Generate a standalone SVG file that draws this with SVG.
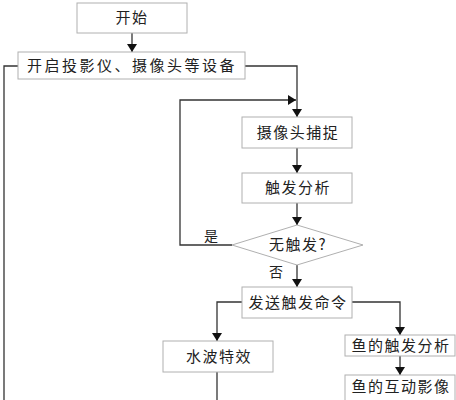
<svg xmlns="http://www.w3.org/2000/svg" width="456" height="400" viewBox="0 0 456 400">
<style>
.box{fill:#fff;stroke:#b0b0b0;stroke-width:1}
.t{font-family:"Noto Sans CJK SC","Liberation Serif",sans-serif;font-size:15px;fill:#222;text-anchor:middle;letter-spacing:1.5px}
.ln{fill:none;stroke:#333;stroke-width:1.3}
.lbl{font-family:"Noto Sans CJK SC","Liberation Serif",sans-serif;font-size:14px;fill:#222;text-anchor:middle}
</style>
<defs>
<marker id="ah" markerWidth="8" markerHeight="10" refX="8" refY="5" orient="auto" markerUnits="userSpaceOnUse">
<path d="M0,0 L8,5 L0,10 Z" fill="#111"/>
</marker>
</defs>
<rect width="456" height="400" fill="#fff"/>
<g id="connectors">
<path class="ln" d="M132,33 V52" marker-end="url(#ah)"/>
<path class="ln" d="M18,66 H4 V400"/>
<path class="ln" d="M245,66 H297 V117" marker-end="url(#ah)"/>
<path class="ln" d="M232,245 H180 V100 H296" marker-end="url(#ah)"/>
<path class="ln" d="M297,148 V173" marker-end="url(#ah)"/>
<path class="ln" d="M297,203 V225" marker-end="url(#ah)"/>
<path class="ln" d="M297,265 V287" marker-end="url(#ah)"/>
<path class="ln" d="M242,302 H217 V341" marker-end="url(#ah)"/>
<path class="ln" d="M217,372 V400"/>
<path class="ln" d="M352,302 H400 V335" marker-end="url(#ah)"/>
<path class="ln" d="M400,356 V375" marker-end="url(#ah)"/>
<text class="lbl" x="211" y="241">是</text>
<text class="lbl" x="276" y="277">否</text>
</g>
<g id="start"><rect class="box" x="77" y="3" width="110" height="30"/><text class="t" x="132" y="23">开始</text></g>
<g id="open"><rect class="box" x="18" y="52" width="227" height="27"/><text class="t" x="132" y="71" style="letter-spacing:2.5px">开启投影仪、摄像头等设备</text></g>
<g id="capture"><rect class="box" x="242" y="117" width="110" height="31"/><text class="t" x="298" y="138">摄像头捕捉</text></g>
<g id="analyze"><rect class="box" x="242" y="173" width="110" height="30"/><text class="t" x="298" y="193">触发分析</text></g>
<g id="decision"><polygon class="box" points="297,225 363,245 297,265 232,245"/><text class="t" x="298" y="250">无触发?</text></g>
<g id="send"><rect class="box" x="242" y="287" width="110" height="31"/><text class="t" x="298" y="308">发送触发命令</text></g>
<g id="ripple"><rect class="box" x="163" y="341" width="110" height="31"/><text class="t" x="219" y="362">水波特效</text></g>
<g id="fish-analyze"><rect class="box" x="345" y="335" width="110" height="21"/><text class="t" x="401" y="351">鱼的触发分析</text></g>
<g id="fish-image"><rect class="box" x="345" y="375" width="110" height="30"/><text class="t" x="401" y="392">鱼的互动影像</text></g>
</svg>
